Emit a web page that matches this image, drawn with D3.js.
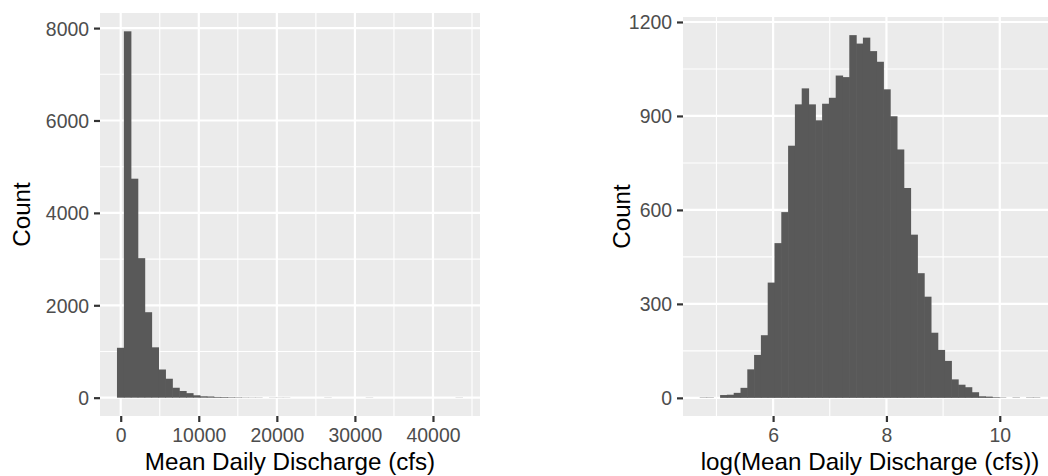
<!DOCTYPE html>
<html>
<head>
<meta charset="utf-8">
<script src="https://cdn.jsdelivr.net/npm/d3@7"></script>
<style>
  html, body { margin: 0; padding: 0; background: #ffffff; }
  svg { display: block; }
  text { font-family: "Liberation Sans", Arial, Helvetica, sans-serif; }
</style>
</head>
<body>
<svg id="chart" width="1048" height="476"></svg>
<script>
// Histogram of mean daily discharge (cfs), 50 bins
const rawBinStart = -440;
const rawBinWidth = 885;
const rawCounts = [
  1080, 7930, 4740, 3020, 1850, 1090, 610, 410, 215, 145,
  98, 52, 30, 26, 16, 14, 10, 8, 5, 4,
  4, 0, 3, 3, 3, 0, 0, 0, 0, 0,
  3, 0, 0, 0, 0, 0, 3, 0, 0, 0,
  0, 0, 0, 0, 0, 0, 0, 0, 0, 3
];
const rawXTicks = [0, 10000, 20000, 30000, 40000];
const rawYTicks = [0, 2000, 4000, 6000, 8000];

// Histogram of log(mean daily discharge), 50 bins
const logBinStart = 4.71;
const logBinWidth = 0.12;
const logCounts = [
  1, 1, 0, 9, 10, 16, 32, 91, 137, 200,
  368, 494, 593, 805, 937, 988, 937, 886, 939, 958,
  1029, 1024, 1158, 1131, 1150, 1107, 1073, 985, 899, 793,
  670, 521, 398, 323, 208, 153, 118, 59, 42, 34,
  18, 5, 4, 2, 1, 0, 1, 0, 1, 1
];
const logXTicks = [6, 8, 10];
const logYTicks = [0, 300, 600, 900, 1200];

const svg = d3.select("#chart");

function drawHistogram(opts) {
  const { counts, binStart, binWidth, xTicks, yTicks, box, xTitle, yTitle, yTitleX } = opts;
  const bins = counts.map((c, i) => ({
    x0: binStart + i * binWidth,
    x1: binStart + (i + 1) * binWidth,
    count: c
  }));
  const xMin = bins[0].x0, xMax = bins[bins.length - 1].x1;
  const xPad = (xMax - xMin) * 0.05;
  const yMax = d3.max(counts);

  const x = d3.scaleLinear().domain([xMin - xPad, xMax + xPad]).range([box.left, box.right]);
  const y = d3.scaleLinear().domain([-0.05 * yMax, 1.05 * yMax]).range([box.bottom, box.top]);

  const g = svg.append("g");
  const clipId = "clip-" + Math.round(box.left);
  svg.append("defs").append("clipPath").attr("id", clipId)
    .append("rect").attr("x", box.left).attr("y", box.top)
    .attr("width", box.right - box.left).attr("height", box.bottom - box.top);

  // panel background
  g.append("rect")
    .attr("x", box.left).attr("y", box.top)
    .attr("width", box.right - box.left).attr("height", box.bottom - box.top)
    .attr("fill", "#ebebeb");

  const grid = g.append("g").attr("clip-path", `url(#${clipId})`);
  const xStep = xTicks[1] - xTicks[0];
  const yStep = yTicks[1] - yTicks[0];
  const [dx0, dx1] = x.domain();
  const [dy0, dy1] = y.domain();
  const xMinor = d3.range(xTicks[0] - xStep / 2, dx1, xStep).filter(v => v > dx0);
  const yMinor = d3.range(yTicks[0] - yStep / 2, dy1, yStep).filter(v => v > dy0);

  grid.selectAll(".xminor").data(xMinor).join("line")
    .attr("x1", d => x(d)).attr("x2", d => x(d))
    .attr("y1", box.top).attr("y2", box.bottom)
    .attr("stroke", "#ffffff").attr("stroke-width", 1.1);
  grid.selectAll(".yminor").data(yMinor).join("line")
    .attr("y1", d => y(d)).attr("y2", d => y(d))
    .attr("x1", box.left).attr("x2", box.right)
    .attr("stroke", "#ffffff").attr("stroke-width", 1.1);
  grid.selectAll(".xmajor").data(xTicks).join("line")
    .attr("x1", d => x(d)).attr("x2", d => x(d))
    .attr("y1", box.top).attr("y2", box.bottom)
    .attr("stroke", "#ffffff").attr("stroke-width", 2.2);
  grid.selectAll(".ymajor").data(yTicks).join("line")
    .attr("y1", d => y(d)).attr("y2", d => y(d))
    .attr("x1", box.left).attr("x2", box.right)
    .attr("stroke", "#ffffff").attr("stroke-width", 2.2);

  // bars (a hair of overlap so neighbouring bars read as one solid shape)
  grid.selectAll(".bar").data(bins.filter(b => b.count > 0)).join("rect")
    .attr("x", d => x(d.x0) - 0.3)
    .attr("width", d => x(d.x1) - x(d.x0) + 0.6)
    .attr("y", d => y(d.count))
    .attr("height", d => y(0) - y(d.count))
    .attr("fill", "#595959");

  // axes
  const xAxis = d3.axisBottom(x).tickValues(xTicks).tickSize(6).tickPadding(5)
    .tickFormat(d3.format("d"));
  const yAxis = d3.axisLeft(y).tickValues(yTicks).tickSize(6).tickPadding(5)
    .tickFormat(d3.format("d"));

  const gx = svg.append("g").attr("transform", `translate(0,${box.bottom})`).call(xAxis);
  const gy = svg.append("g").attr("transform", `translate(${box.left},0)`).call(yAxis);
  [gx, gy].forEach(a => {
    a.select(".domain").remove();
    a.selectAll(".tick line").attr("stroke", "#333333").attr("stroke-width", 2.2);
    a.selectAll(".tick text").attr("fill", "#4d4d4d").attr("font-size", 19.4)
      .attr("font-family", "'Liberation Sans', Arial, sans-serif");
  });
  gx.selectAll(".tick text").attr("dy", "0.78em");
  gy.selectAll(".tick text").attr("dy", "0.36em");

  // titles
  svg.append("text")
    .attr("x", (box.left + box.right) / 2).attr("y", 470)
    .attr("text-anchor", "middle").attr("font-size", 24.2).attr("fill", "#000000")
    .text(xTitle);
  svg.append("text")
    .attr("transform", `translate(${yTitleX},${(box.top + box.bottom) / 2}) rotate(-90)`)
    .attr("text-anchor", "middle").attr("font-size", 24.2).attr("fill", "#000000")
    .text(yTitle);
}

drawHistogram({
  counts: rawCounts, binStart: rawBinStart, binWidth: rawBinWidth,
  xTicks: rawXTicks, yTicks: rawYTicks,
  box: { left: 100, right: 480, top: 13, bottom: 416 },
  xTitle: "Mean Daily Discharge (cfs)", yTitle: "Count", yTitleX: 30
});

drawHistogram({
  counts: logCounts, binStart: logBinStart, binWidth: logBinWidth,
  xTicks: logXTicks, yTicks: logYTicks,
  box: { left: 683, right: 1057, top: 17, bottom: 416 },
  xTitle: "log(Mean Daily Discharge (cfs))", yTitle: "Count", yTitleX: 630
});
</script>
</body>
</html>
